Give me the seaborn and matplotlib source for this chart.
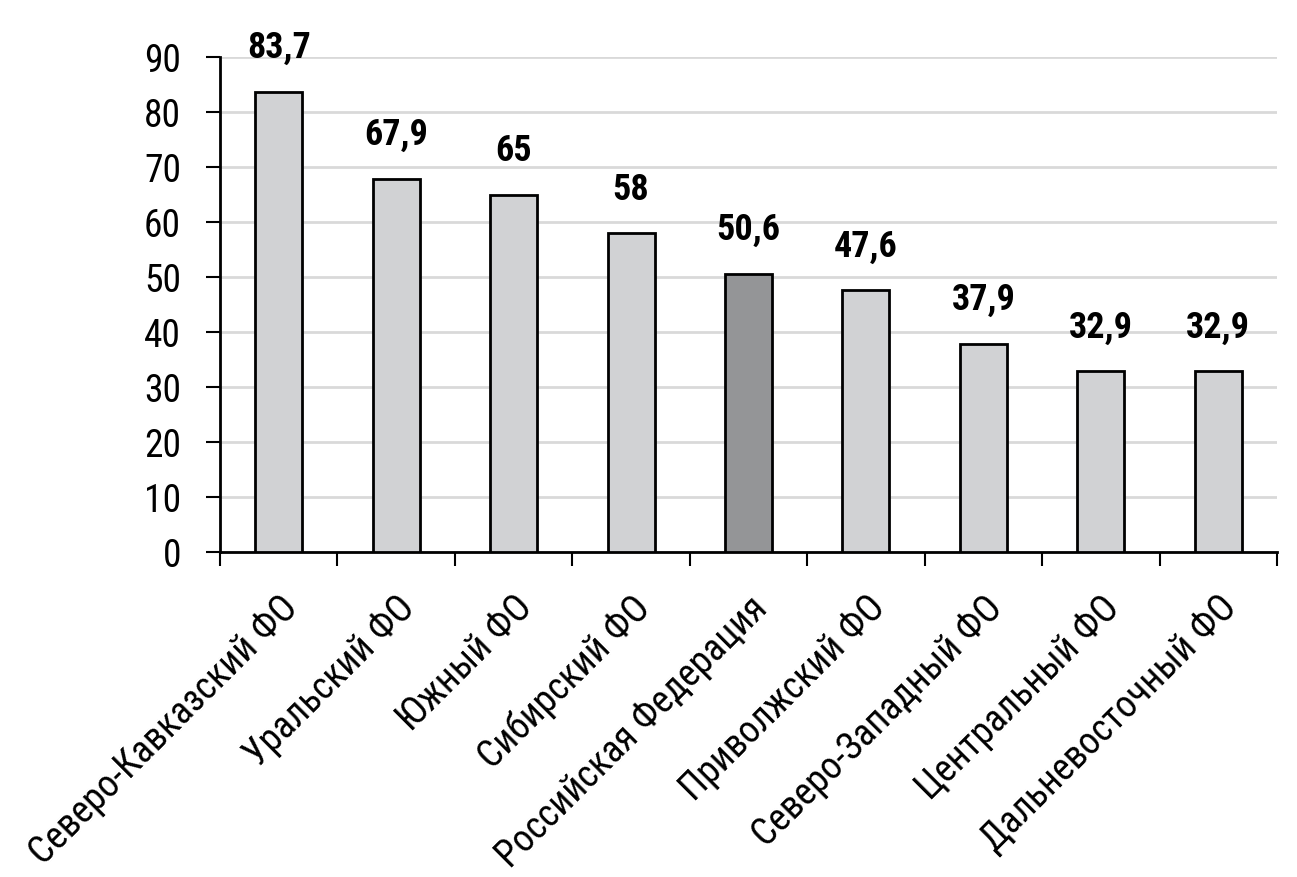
import matplotlib
matplotlib.use("Agg")
import matplotlib.pyplot as plt
import seaborn as sns
import pandas as pd
import numpy as np
from matplotlib.ticker import FixedLocator
from matplotlib import font_manager

categories = ["Северо-Кавказский ФО", "Уральский ФО", "Южный ФО", "Сибирский ФО",
              "Российская Федерация", "Приволжский ФО", "Северо-Западный ФО",
              "Центральный ФО", "Дальневосточный ФО"]
values = [83.7, 67.9, 65, 58, 50.6, 47.6, 37.9, 32.9, 32.9]
labels = ["83,7", "67,9", "65", "58", "50,6", "47,6", "37,9", "32,9", "32,9"]

sns.set_theme(style="white")
names = {f.name for f in font_manager.fontManager.ttflist}
fam = [n for n in ["Roboto Condensed", "DejaVu Sans Condensed", "Liberation Sans Narrow"] if n in names]
plt.rcParams['font.family'] = fam + ['DejaVu Sans']
plt.rcParams['font.stretch'] = 'condensed'
plt.rcParams['text.color'] = 'black'
plt.rcParams['xtick.color'] = 'black'
plt.rcParams['ytick.color'] = 'black'

df = pd.DataFrame({"cat": categories, "val": values})
palette = {c: ("#939598" if c == "Российская Федерация" else "#d1d2d4") for c in categories}

fig = plt.figure(figsize=(12.97, 8.78), dpi=100)
ax = fig.add_axes([220/1297, 1-553/878, (1277-220)/1297, (553-58)/878])
sns.barplot(data=df, x="cat", y="val", hue="cat", palette=palette, legend=False,
            width=0.4, edgecolor="black", linewidth=2, ax=ax, zorder=3)

ax.set_ylim(0, 90)
ax.set_xlim(-0.5, len(categories) - 0.5)
ax.set_yticks(range(0, 91, 10))
ax.yaxis.grid(True, color="#d9d9d9", linewidth=2, zorder=0)
ax.set_axisbelow(True)
for s in ["top", "right"]:
    ax.spines[s].set_visible(False)
for s in ["left", "bottom"]:
    ax.spines[s].set_color("black")
    ax.spines[s].set_linewidth(2)
ax.set_xlabel("")
ax.set_ylabel("")
ax.tick_params(axis="y", which="major", direction="out", length=10, width=1.5,
               color="black", labelcolor="black", labelsize=27, pad=18, left=True)
ax.tick_params(axis="x", which="major", length=0, labelsize=27, pad=26, labelcolor="black")
ax.xaxis.set_minor_locator(FixedLocator(np.arange(-0.5, len(categories), 1.0)))
ax.tick_params(axis="x", which="minor", direction="out", length=10, width=1.5,
               color="black", bottom=True)
ax.set_xticks(range(len(categories)))
ax.set_xticklabels(categories, rotation=45, ha="right", rotation_mode="anchor")
for lab in ax.get_xticklabels():
    lab.set_x(0)

for i, (v, t) in enumerate(zip(values, labels)):
    ax.annotate(t, (i, v), xytext=(0, 19), textcoords="offset points",
                ha="center", va="bottom", fontsize=26, fontweight="bold",
                color="black", clip_on=False)

fig.savefig("out.png", dpi=100)
